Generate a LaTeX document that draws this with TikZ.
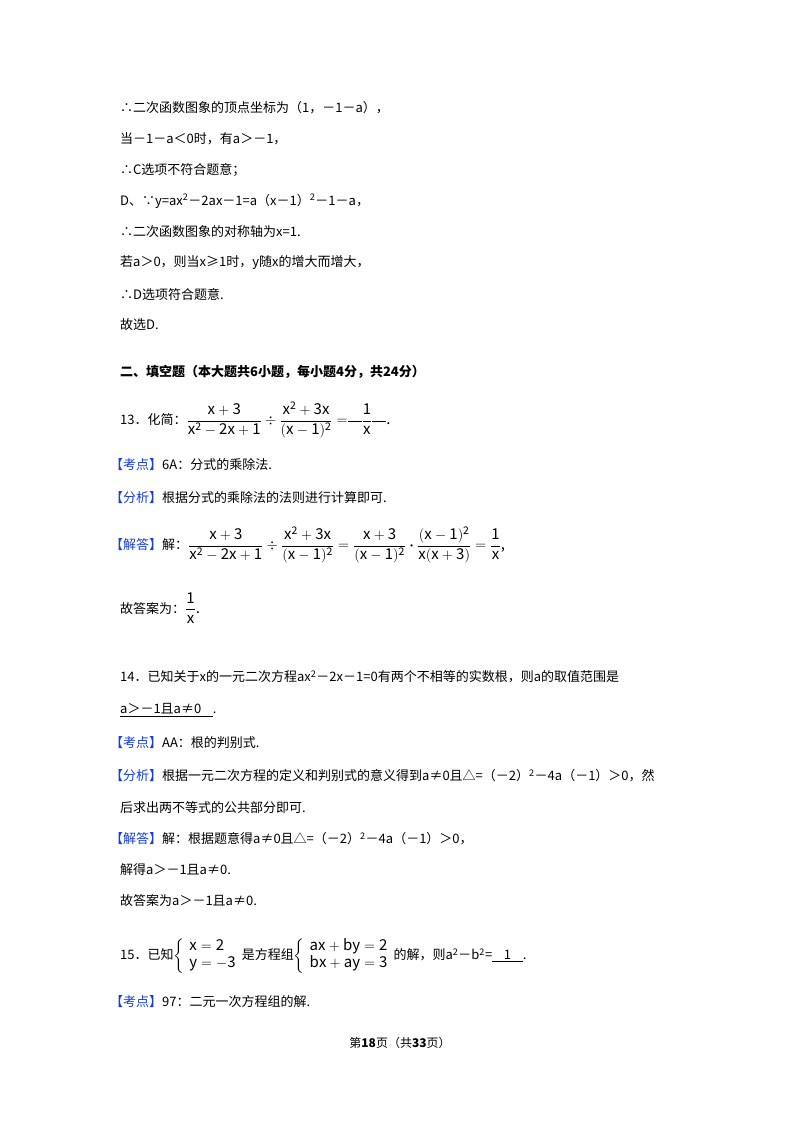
\documentclass[tikz,border=0pt]{standalone}
\usepackage{amsmath}
\usepackage{fontspec}
\setmainfont{Noto Sans CJK SC}
\definecolor{kblue}{RGB}{20,60,230}
\begin{document}
\begin{tikzpicture}[x=1pt,y=-1pt,
  t/.style={anchor=west,inner sep=0pt,font=\fontsize{13}{15}\selectfont},
  m/.style={anchor=west,inner sep=0pt,font=\fontsize{15}{17}\selectfont},
  b/.style={t,font=\fontsize{13}{15}\selectfont\bfseries}]
\useasboundingbox (0,0) rectangle (800,1132);
\fill[white] (0,0) rectangle (800,1132);
\newcommand{\kb}[1]{\textcolor{kblue}{【#1】}}
\newcommand{\cn}[1]{{\fontsize{13}{15}\selectfont #1}}
\newcommand{\one}{\mathrm{1}}
\node[t] (l1) at (120,108) {∴二次函数图象的顶点坐标为（1，－1－a），};
\node[t] (l2) at (120,139) {当－1－a＜0时，有a＞－1，};
\node[t] (l3) at (120,170) {∴C选项不符合题意；};
\node[t] (l4) at (120,201) {D、∵y=ax\textsuperscript{2}－2ax－1=a（x－1）\textsuperscript{2}－1－a，};
\node[t] (l5) at (120,232) {∴二次函数图象的对称轴为x=1.};
\node[t] (l6) at (120,263) {若a＞0，则当x≥1时，y随x的增大而增大，};
\node[t] (l7) at (120,294) {∴D选项符合题意.};
\node[t] (l8) at (120,325) {故选D.};
\node[b] (h) at (120,372) {二、填空题（本大题共6小题，每小题4分，共24分）};
\node[m] (q13) at (120,420) {\cn{13．化简：}$\dfrac{\mathrm{x+3}}{\mathrm{x^2-2x+1}}\div\dfrac{\mathrm{x^2+3x}}{\mathrm{(x-1)^2}}=$\rule[0.3ex]{14pt}{0.5pt}$\dfrac{\one}{\mathrm{x}}$\rule[0.3ex]{14pt}{0.5pt}.};
\node[t] (k13) at (110,465) {\kb{考点}6A：分式的乘除法.};
\node[t] (f13) at (110,498) {\kb{分析}根据分式的乘除法的法则进行计算即可.};
\node[m] (j13) at (110,545) {\cn{\kb{解答}解：}$\dfrac{\mathrm{x+3}}{\mathrm{x^2-2x+1}}\div\dfrac{\mathrm{x^2+3x}}{\mathrm{(x-1)^2}}=\dfrac{\mathrm{x+3}}{\mathrm{(x-1)^2}}\boldsymbol{\cdot}\dfrac{\mathrm{(x-1)^2}}{\mathrm{x(x+3)}}=\dfrac{\one}{\mathrm{x}}$,};
\node[m] (a13) at (120,608) {\cn{故答案为：}$\dfrac{\one}{\mathrm{x}}$.};
\node[t] (q14) at (120,677) {14．已知关于x的一元二次方程ax\textsuperscript{2}－2x－1=0有两个不相等的实数根，则a的取值范围是};
\node[t] (q14b) at (120,710) {\underline{a＞－1且a≠0\ \ \ \ }.};
\node[t] (k14) at (110,743) {\kb{考点}AA：根的判别式.};
\node[t] (f14) at (110,776) {\kb{分析}根据一元二次方程的定义和判别式的意义得到a≠0且△=（－2）\textsuperscript{2}－4a（－1）＞0，然};
\node[t] (f14b) at (120,808) {后求出两不等式的公共部分即可.};
\node[t] (j14) at (110,839) {\kb{解答}解：根据题意得a≠0且△=（－2）\textsuperscript{2}－4a（－1）＞0，};
\node[t] (j14b) at (120,870) {解得a＞－1且a≠0.};
\node[t] (a14) at (120,901) {故答案为a＞－1且a≠0.};
\node[m] (q15) at (120,956) {\cn{15．已知}$\left\{\begin{array}{l}\mathrm{x=2}\\\mathrm{y=-3}\end{array}\right.$\cn{是方程组}$\left\{\begin{array}{l}\mathrm{ax+by=2}\\\mathrm{bx+ay=3}\end{array}\right.$\cn{的解，则a\textsuperscript{2}－b\textsuperscript{2}=\underline{\ \ \ \ 1\ \ \ \ }.}};
\node[t] (k15) at (110,1002) {\kb{考点}97：二元一次方程组的解.};
\node[anchor=center,inner sep=0pt,font=\fontsize{12}{14}\selectfont] (ft) at (400,1043) {第\textbf{18}页（共\textbf{33}页）};
\end{tikzpicture}
\end{document}
